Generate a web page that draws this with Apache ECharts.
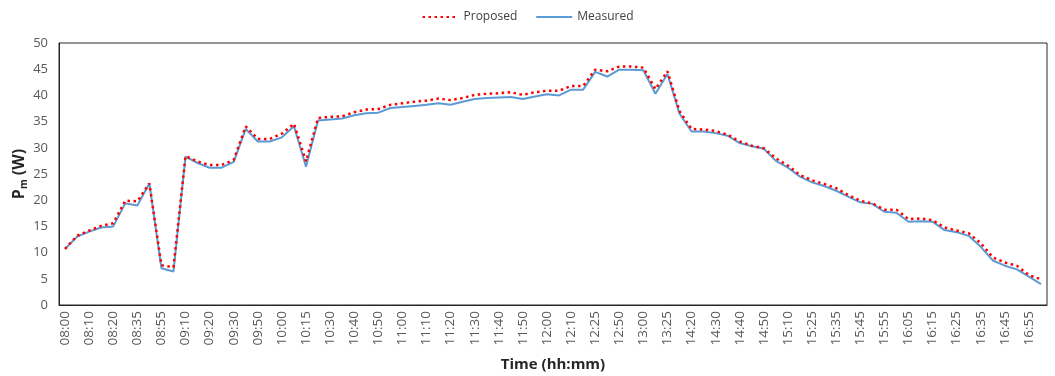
<!DOCTYPE html>
<html><head><meta charset="utf-8">
<script src="https://cdn.jsdelivr.net/npm/echarts@6/dist/echarts.min.js"></script>
<style>html,body{margin:0;padding:0;background:#fff}#c{width:1055px;height:376px}</style>
</head><body><div id="c"></div>
<script>
const times = ["08:00","08:05","08:10","08:15","08:20","08:30","08:35","08:45","08:55","09:05",
"09:10","09:15","09:20","09:25","09:30","09:40","09:50","09:55","10:00","10:10",
"10:15","10:25","10:30","10:35","10:40","10:45","10:50","10:55","11:00","11:05",
"11:10","11:15","11:20","11:25","11:30","11:35","11:40","11:45","11:50","11:55",
"12:00","12:05","12:10","12:20","12:25","12:40","12:50","12:55","13:00","13:10",
"13:25","14:10","14:20","14:25","14:30","14:35","14:40","14:45","14:50","15:00",
"15:10","15:20","15:25","15:30","15:35","15:40","15:45","15:50","15:55","16:00",
"16:05","16:10","16:15","16:20","16:25","16:30","16:35","16:40","16:45","16:50",
"16:55","17:00"];
const proposed = [10.7,13.2,14.2,15.1,15.6,19.9,19.8,23.2,7.6,7.2,
28.4,27.4,26.7,26.7,27.7,34.1,31.7,31.7,32.7,34.6,
27.4,35.7,35.9,36.0,36.8,37.3,37.4,38.2,38.5,38.8,
39.0,39.4,39.1,39.5,40.1,40.3,40.4,40.6,40.1,40.6,
40.9,40.9,41.8,41.8,44.9,44.6,45.5,45.5,45.3,41.2,
44.6,37.0,33.6,33.5,33.2,32.5,31.2,30.4,29.9,28.0,
26.6,24.8,23.8,23.1,22.3,21.0,19.9,19.4,18.2,18.2,
16.4,16.5,16.2,14.8,14.2,13.7,11.8,9.1,8.1,7.5,
5.7,4.9];
const measured = [10.7,13.05,14.0,14.8,15.0,19.4,19.0,23.2,7.0,6.4,
28.3,27.1,26.2,26.2,27.3,33.6,31.2,31.2,32.0,34.1,
26.4,35.2,35.4,35.6,36.2,36.6,36.7,37.6,37.8,38.0,
38.2,38.5,38.2,38.8,39.3,39.5,39.6,39.7,39.3,39.8,
40.2,40.0,41.1,41.1,44.5,43.6,44.9,44.9,44.8,40.3,
44.1,36.5,33.1,33.1,32.8,32.3,30.9,30.3,29.8,27.5,
26.2,24.5,23.4,22.7,21.8,20.7,19.6,19.3,17.8,17.6,
15.9,16.0,15.9,14.3,13.9,13.2,11.1,8.5,7.5,6.8,
5.4,4.0];
const yTicks = {min:0, max:50, interval:5};

const chart = echarts.init(document.getElementById('c'));
const font = 'Open Sans';
chart.setOption({
  animation:false,
  backgroundColor:'#fff',
  textStyle:{fontFamily:font},
  legend:{
    top:6, left:'center', itemWidth:36, itemHeight:10, itemGap:18,
    data:['Proposed','Measured'],
    itemStyle:{opacity:0},
    textStyle:{fontSize:12, color:'#404040', fontFamily:font}
  },
  grid:{left:59, right:8, top:43, bottom:71, show:true, borderColor:'#262626', borderWidth:1,
        containLabel:false, outerBoundsMode:'none'},
  xAxis:{
    type:'category', data:times, boundaryGap:true,
    axisLine:{lineStyle:{color:'#262626'}},
    axisTick:{show:false},
    axisLabel:{rotate:90, interval:1, color:'#595959', fontSize:13.5, fontFamily:font, margin:6},
    name:'Time (hh:mm)', nameLocation:'middle', nameGap:52, nameMoveOverlap:false,
    nameTextStyle:{fontWeight:'bold', fontSize:15, color:'#262626', fontFamily:font}
  },
  yAxis:{
    type:'value', min:yTicks.min, max:yTicks.max, interval:yTicks.interval,
    splitLine:{show:false},
    axisLine:{show:true, lineStyle:{color:'#262626'}},
    axisTick:{show:false},
    axisLabel:{color:'#595959', fontSize:13, fontFamily:font, margin:11},
    name:'{a|P}{s|m}{a| (W)}', nameLocation:'middle', nameGap:30, nameRotate:90, nameMoveOverlap:false,
    nameTextStyle:{
      rich:{
        a:{fontWeight:'bold', fontSize:16, color:'#262626', fontFamily:font},
        s:{fontWeight:'bold', fontSize:10, color:'#262626', fontFamily:font, padding:[9,0,0,0]}
      }
    }
  },
  series:[
    {name:'Measured', type:'line', data:measured, symbol:'none',
     lineStyle:{color:'#5B9BD5', width:2}, itemStyle:{color:'#5B9BD5'}},
    {name:'Proposed', type:'line', data:proposed, symbol:'none',
     lineStyle:{color:'#FF0000', width:2.5, type:[2.5,3.5]}, itemStyle:{color:'#FF0000'}}
  ]
});
</script></body></html>
